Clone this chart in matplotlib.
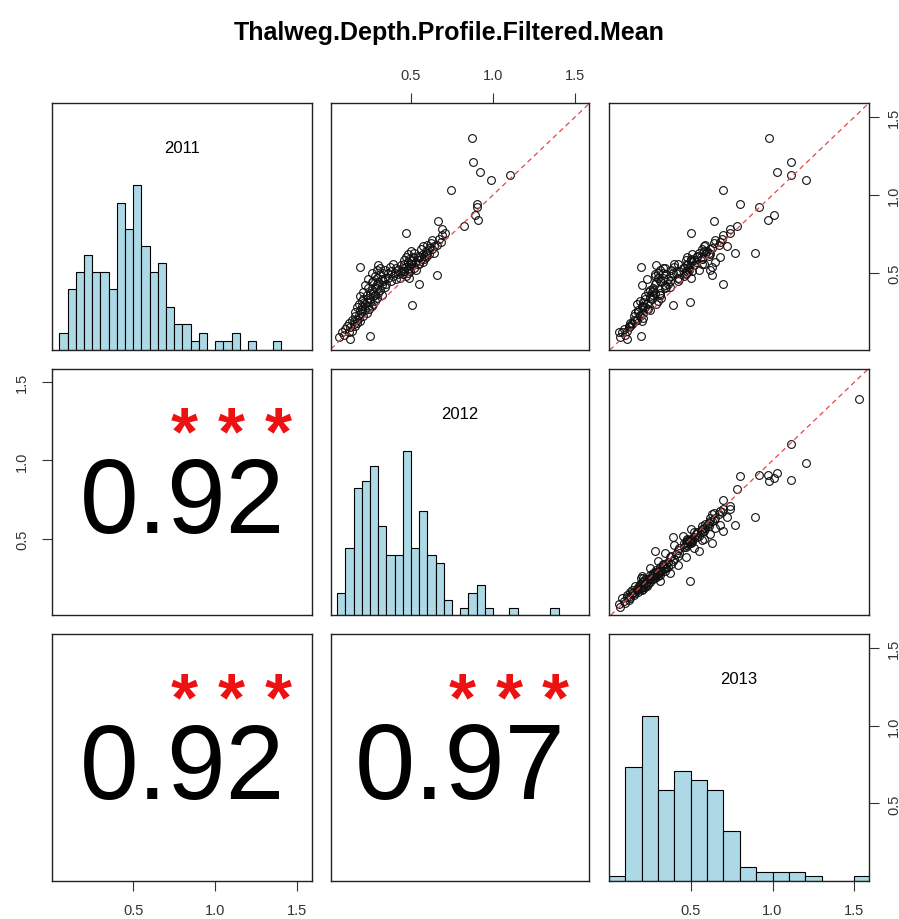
import numpy as np
import matplotlib
matplotlib.use("Agg")
import matplotlib.pyplot as plt

plt.rcParams['font.family'] = ['Liberation Sans', 'DejaVu Sans']

title = "Thalweg.Depth.Profile.Filtered.Mean"
years = ["2011", "2012", "2013"]

# depth per site, one value per year (nan = not measured)
y2011 = [0.09, 0.12, 0.10, 0.14, 0.078, 0.16, 0.12, 0.18, 0.15, 0.20, 0.13, 0.17,
         0.19, 0.22, 0.16, 0.25, 0.20, 0.28, 0.18, 0.23, 0.30, 0.21, 0.54, 0.26, 0.35, 0.19, 0.24, 0.32, 0.27,
         0.29, 0.38, 0.22, 0.33, 0.26, 0.42, 0.30, 0.24, 0.36, 0.31, 0.28, 0.40, 0.34, 0.094, 0.46, 0.27, 0.37, 0.31,
         0.33, 0.44, 0.29, 0.39, 0.50, 0.35, 0.30, 0.45, 0.38, 0.48, 0.32, 0.41, 0.36, 0.52, 0.43, 0.34, 0.47, 0.40, 0.55, 0.37,
         0.44, 0.49, 0.39, 0.53, 0.42, 0.46, 0.36, 0.50, 0.45, 0.41, 0.52, 0.47,
         0.43, 0.50, 0.47, 0.54, 0.45, 0.51, 0.48, 0.56,
         0.50, 0.46, 0.53, 0.49, 0.52, 0.47, 0.55, 0.51,
         0.53, 0.49, 0.56, 0.756, 0.51, 0.58, 0.48, 0.54, 0.60, 0.50, 0.57, 0.52, 0.62, 0.55, 0.47, 0.59, 0.53, 0.64, 0.56, 0.294, 0.51, 0.58,
         0.55, 0.60, 0.53, 0.63, 0.57, 0.52, 0.61, 0.58, 0.56,
         0.43, 0.60, 0.56, 0.65, 0.59, 0.62, 0.57, 0.67, 0.61, 0.59, 0.64, 0.627, 0.60, 0.68,
         0.63, 0.66, 0.62, 0.69, 0.65, 0.627, 0.71, 0.67,
         0.487, 0.83, 0.68, 0.72, 0.70, 0.74, 0.78,
         0.756, 1.03, 0.80, 1.365, 1.21, 0.87, 0.94, 0.92, 0.84, 1.147, 1.094, 1.13, np.nan]
y2012 = [0.06, 0.08, 0.09, 0.10, 0.13, 0.11, 0.12, 0.12, 0.13, 0.14, 0.14, 0.15,
         0.15, 0.16, 0.16, 0.16, 0.17, 0.17, 0.17, 0.18, 0.18, 0.18, 0.187, 0.19, 0.19, 0.19, 0.195, 0.20, 0.20,
         0.20, 0.21, 0.21, 0.21, 0.22, 0.22, 0.22, 0.23, 0.23, 0.23, 0.24, 0.24, 0.24, 0.248, 0.24, 0.245, 0.25, 0.25,
         0.25, 0.26, 0.26, 0.26, 0.26, 0.27, 0.27, 0.27, 0.27, 0.28, 0.28, 0.28, 0.28, 0.29, 0.29, 0.29, 0.29, 0.295, 0.30, 0.30,
         0.30, 0.31, 0.31, 0.31, 0.32, 0.32, 0.32, 0.33, 0.33, 0.34, 0.34, 0.34,
         0.35, 0.36, 0.36, 0.37, 0.38, 0.38, 0.39, 0.39,
         0.40, 0.41, 0.41, 0.42, 0.42, 0.43, 0.44, 0.44,
         0.45, 0.45, 0.46, 0.47, 0.46, 0.46, 0.47, 0.47, 0.47, 0.48, 0.48, 0.48, 0.48, 0.49, 0.49, 0.49, 0.49, 0.50, 0.50, 0.508, 0.495, 0.50,
         0.51, 0.51, 0.52, 0.52, 0.53, 0.53, 0.54, 0.54, 0.545,
         0.55, 0.55, 0.55, 0.56, 0.56, 0.57, 0.57, 0.57, 0.58, 0.58, 0.59, 0.59, 0.59, 0.595,
         0.60, 0.61, 0.61, 0.62, 0.63, 0.64, 0.63, 0.64,
         0.66, 0.667, 0.66, 0.67, 0.68, 0.69, 0.69,
         0.71, 0.746, 0.82, 0.87, 0.875, 0.89, 0.90, 0.905, 0.91, 0.92, 0.986, 1.105, 1.39]
y2013 = [0.07, 0.06, 0.10, 0.09, 0.11, 0.12, 0.08, 0.13, 0.12, 0.15, 0.11, 0.14,
         0.16, 0.15, 0.13, 0.18, 0.17, 0.20, 0.14, 0.19, 0.17, 0.21, 0.194, 0.18, 0.22, 0.20, 0.16, 0.19, 0.23,
         0.21, 0.24, 0.19, 0.22, 0.25, 0.20, 0.23, 0.21, 0.31, 0.494, 0.22, 0.27, 0.25, 0.195, 0.23, 0.24, 0.28, 0.21,
         0.26, 0.29, 0.20, 0.27, 0.30, 0.25, 0.29, 0.31, 0.26, 0.28, 0.30, 0.37, 0.27, 0.31, 0.28, 0.32, 0.30, 0.34, 0.29, 0.31,
         0.32, 0.35, 0.25, 0.33, 0.34, 0.36, 0.31, 0.33, 0.42, 0.35, 0.38, 0.33,
         0.36, 0.39, 0.30, 0.40, 0.37, 0.47, 0.38, 0.42,
         0.41, 0.43, 0.34, 0.28, 0.55, 0.42, 0.52, 0.43,
         0.46, 0.47, 0.40, 0.50, 0.48, 0.47, 0.46, 0.63, 0.48, 0.47, 0.50, 0.49, 0.51, 0.48, 0.50, 0.57, 0.49, 0.58, 0.48, 0.39, 0.51, 0.50,
         0.52, 0.54, 0.45, 0.55, 0.53, 0.62, 0.54, 0.52, 0.57,
         0.70, 0.56, 0.58, 0.57, 0.50, 0.59, 0.65, 0.58, 0.61, 0.57, 0.60, 0.77, 0.68, 0.59,
         0.61, 0.63, 0.62, 0.64, 0.62, 0.89, 0.65, 0.72,
         0.63, 0.645, 0.67, 0.69, 0.68, 0.70, 0.74,
         0.74, 0.70, 0.78, 0.98, 1.11, 1.01, 0.80, 0.92, 0.97, 1.03, 1.206, 1.115, 1.53]

# histogram bars
hist2011_edges = np.arange(0.05, 1.4001, 0.05)
hist2011_counts = [2, 7, 9, 11, 9, 9, 7, 17, 14, 19, 12, 9, 10, 5, 3, 3, 1, 2, 0, 1, 1, 2, 0, 1, 0, 0, 1]
hist2012_edges = np.arange(0.05, 1.4001, 0.05)
hist2012_counts = [3, 9, 17, 18, 20, 12, 8, 8, 22, 9, 14, 8, 7, 2, 0, 1, 3, 4, 1, 0, 0, 1, 0, 0, 0, 0, 1]
hist2013_edges = np.arange(0.0, 1.6001, 0.1)
hist2013_counts = [1, 25, 36, 20, 24, 22, 20, 11, 3, 2, 2, 2, 1, 0, 0, 1]

cor_values = {(1, 0): "0.92", (2, 0): "0.92", (2, 1): "0.97"}
cor_star = "*"

data = [np.array(y2011), np.array(y2012), np.array(y2013)]
hists = [(hist2011_edges, hist2011_counts), (hist2012_edges, hist2012_counts),
         (hist2013_edges, hist2013_counts)]
lims = [(0.005, 1.59), (0.012, 1.585), (0.0, 1.59)]
ticks = [0.5, 1.0, 1.5]
ticklabels = ["0.5", "1.0", "1.5"]

W, H = 899, 920
fig = plt.figure(figsize=(W / 100, H / 100), dpi=100)
fig.text(0.5, 1 - 33 / H, title, ha="center", va="center", fontsize=18, fontweight="bold")

col_px = [(52, 312), (331, 589), (609, 869)]
row_px = [(104, 351), (370, 616), (635, 882)]

tick_kw = dict(length=7, width=0.8, color="#333333", labelsize=10.5,
               labelcolor="#333333", direction="out")


def make_ax(r, c):
    x0, x1 = col_px[c]
    y0, y1 = row_px[r]
    ax = fig.add_axes([x0 / W, 1 - y1 / H, (x1 - x0) / W, (y1 - y0) / H])
    ax.set_xticks([])
    ax.set_yticks([])
    for s in ax.spines.values():
        s.set_linewidth(1.0)
        s.set_color("#222222")
    return ax


axes = {}
for r in range(3):
    for c in range(3):
        ax = make_ax(r, c)
        axes[(r, c)] = ax
        if r == c:
            edges, counts = hists[r]
            counts = np.array(counts, dtype=float)
            ax.bar(edges[:-1], counts / counts.max(), width=np.diff(edges), align="edge",
                   color="lightblue", edgecolor="black", linewidth=0.8)
            ax.set_xlim(lims[c])
            ax.set_ylim(0, 1.5)
            ax.text(0.5, 0.82, years[r], transform=ax.transAxes, ha="center", va="center",
                    fontsize=12)
        elif c > r:
            ax.plot(data[c], data[r], "o", mfc="none", mec="#111111", ms=5.6, mew=0.8)
            ax.axline((0, 0), slope=1, color="#e04848", lw=0.9, dashes=(4, 3))
            ax.set_xlim(lims[c])
            ax.set_ylim(lims[r])
        else:
            ax.set_xlim(0, 1)
            ax.set_ylim(0, 1)
            ax.text(0.5, 0.337, cor_values[(r, c)], transform=ax.transAxes, ha="center",
                    va="baseline", fontsize=76 if c == 0 else 78)
            for k in range(3):
                ax.text(0.508 + 0.181 * k, 0.655, cor_star, transform=ax.transAxes,
                        ha="center", va="baseline", fontsize=50, fontweight="bold",
                        color="#ee1111")

# outer axes in the alternating pairs() style
ax = axes[(0, 1)]
ax.xaxis.set_ticks_position("top")
ax.set_xticks(ticks, ticklabels)
ax.tick_params(axis="x", pad=8, **tick_kw)

ax = axes[(0, 2)]
ax.yaxis.set_ticks_position("right")
ax.set_yticks(ticks)
ax.set_yticklabels(ticklabels, rotation=90, va="center")
ax.tick_params(axis="y", pad=6, **tick_kw)

ax = axes[(1, 0)]
ax.set_ylim(lims[1])
ax.set_yticks(ticks)
ax.set_yticklabels(ticklabels, rotation=90, va="center")
ax.tick_params(axis="y", pad=9.5, **tick_kw)

ax = axes[(2, 0)]
ax.set_xlim(lims[0])
ax.set_xticks(ticks, ticklabels)
ax.tick_params(axis="x", pad=9, **tick_kw)

ax = axes[(2, 2)]
ax.set_xticks(ticks, ticklabels)
ax.tick_params(axis="x", pad=9, **tick_kw)
tw = ax.twinx()
tw.set_ylim(lims[2])
tw.set_yticks(ticks)
tw.set_yticklabels(ticklabels, rotation=90, va="center")
tw.tick_params(axis="y", pad=6, **tick_kw)
for s in tw.spines.values():
    s.set_visible(False)

fig.savefig("out.png", dpi=100)
